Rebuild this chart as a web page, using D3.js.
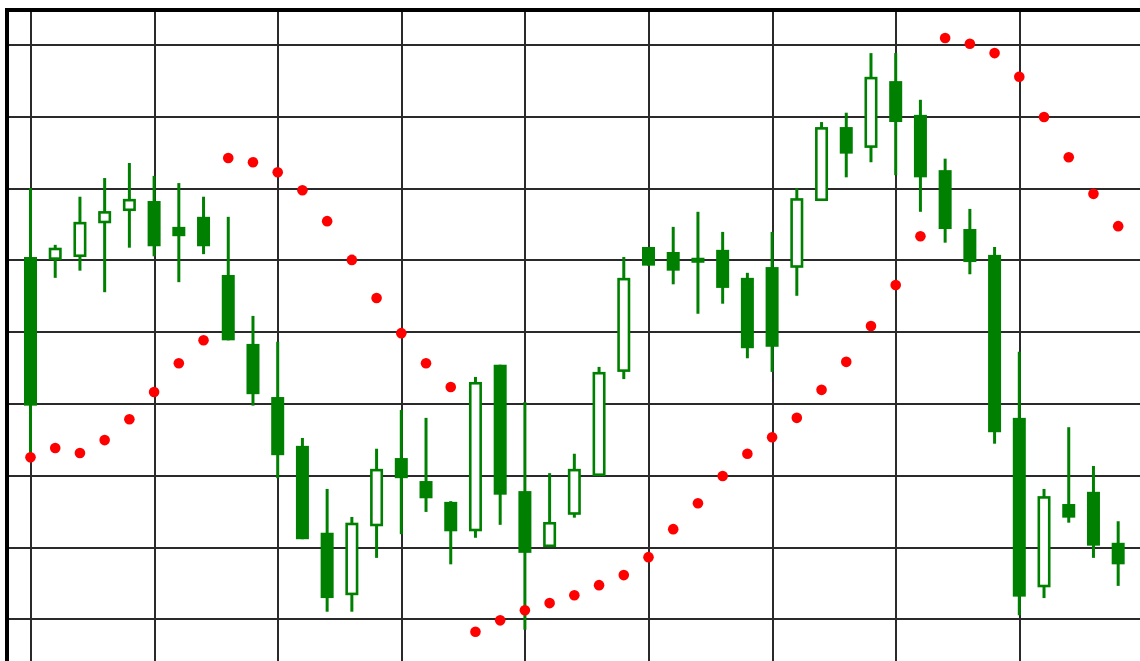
<!DOCTYPE html>
<html>
<head>
<meta charset="utf-8">
<script src="https://cdn.jsdelivr.net/npm/d3@7"></script>
<style>
  html, body { margin: 0; padding: 0; background: #fff; }
  svg { display: block; }
</style>
</head>
<body>
<svg id="chart" width="1140" height="661"></svg>
<script>
// ---- data (price units; grid every 10) ----
const opens  = [60.4,60.0,60.4,65.1,66.8,68.2,64.6,66.0,57.9,48.3,40.9,34.1,22.0,13.3,22.9,32.4,29.2,26.3,22.2,45.4,27.8,20.0,24.5,29.9,44.4,61.8,61.1,60.3,61.4,57.5,59.0,58.9,68.2,78.5,75.6,84.9,80.2,72.5,64.3,60.7,38.0,14.4,26.0,27.7,20.6];
const highs  = [70.0,62.1,68.8,71.4,73.5,71.7,70.7,68.8,66.0,52.2,48.6,35.2,28.1,24.2,33.7,39.1,38.0,26.4,43.7,45.4,40.2,30.3,33.0,45.1,60.4,61.8,64.6,66.7,63.9,58.2,63.9,70.0,79.2,80.5,88.8,88.8,82.3,74.1,67.1,61.8,47.2,28.1,36.7,31.3,23.6];
const lows   = [33.1,57.5,58.5,55.5,61.7,60.5,56.9,60.8,48.8,39.7,29.6,21.1,11.0,11.0,18.5,21.8,24.9,17.6,21.3,23.1,8.5,20.0,24.1,29.9,43.4,59.2,56.6,52.5,53.9,46.3,44.4,55.0,68.2,71.5,73.6,71.8,66.7,62.4,58.0,34.4,10.5,12.9,23.4,18.5,14.6];
const closes = [39.7,61.7,65.3,66.8,68.5,61.9,63.3,61.9,48.8,41.3,32.8,21.1,12.9,23.4,30.9,29.6,26.8,22.2,43.0,27.3,19.2,23.5,30.9,44.4,57.5,59.2,58.5,59.6,56.1,47.7,47.9,68.6,78.5,74.8,85.5,79.2,71.5,64.3,59.7,36.0,13.1,27.1,24.1,20.2,17.6];
const sar    = [32.5,33.8,33.1,34.9,37.8,41.6,45.6,48.8,74.2,73.6,72.2,69.7,65.4,60.0,54.7,49.8,45.6,42.3,8.2,9.8,11.2,12.2,13.3,14.7,16.1,18.6,22.5,26.1,29.9,33.0,35.3,38.0,41.9,45.8,50.8,56.5,63.3,90.9,90.1,88.8,85.5,79.9,74.3,69.2,64.7];
const yTicks = [10,20,30,40,50,60,70,80,90];
const xTicks = [0,5,10,15,20,25,30,35,40];

// ---- layout ----
const W = 1140, H = 661;
const padLeft = 7, padTop = 10;
const green = "#008000";
const bodyW = 13, wickW = 3, hollowStroke = 2.6;

const svg = d3.select("#chart");
svg.append("rect").attr("width", W).attr("height", H).attr("fill", "#fff");

const idx = d3.range(opens.length);
const x = d3.scaleLinear().domain([0, 44]).range([30.5, 30.5 + 44 * 24.72]);
const y = d3.scaleLinear().domain([10, 90]).range([618.9, 44.5]);

// grid via axes
const gy = svg.append("g").attr("transform", `translate(${padLeft},0)`)
  .call(d3.axisLeft(y).tickValues(yTicks).tickSize(-(W - padLeft)).tickFormat(""));
const gx = svg.append("g").attr("transform", `translate(0,${padTop})`)
  .call(d3.axisTop(x).tickValues(xTicks).tickSize(-(H - padTop)).tickFormat(""));
[gy, gx].forEach(g => {
  g.select(".domain").remove();
  g.selectAll(".tick line").attr("stroke", "#2a2a2a").attr("stroke-width", 2).attr("shape-rendering", "crispEdges");
});

// candles
const candles = svg.append("g").selectAll("g").data(idx).join("g");
candles.append("line")
  .attr("x1", i => x(i)).attr("x2", i => x(i))
  .attr("y1", i => y(highs[i])).attr("y2", i => y(lows[i]))
  .attr("stroke", green).attr("stroke-width", wickW);
candles.append("rect")
  .each(function(i) {
    const up = closes[i] > opens[i];
    const t = y(Math.max(opens[i], closes[i]));
    const b = y(Math.min(opens[i], closes[i]));
    const s = d3.select(this);
    if (up) {
      s.attr("x", x(i) - bodyW / 2 + hollowStroke / 2)
       .attr("width", bodyW - hollowStroke)
       .attr("y", t + hollowStroke / 2)
       .attr("height", Math.max(0, b - t - hollowStroke))
       .attr("fill", "#fff").attr("stroke", green).attr("stroke-width", hollowStroke);
    } else {
      s.attr("x", x(i) - bodyW / 2).attr("width", bodyW)
       .attr("y", t).attr("height", Math.max(2, b - t))
       .attr("fill", green);
    }
  });

// parabolic SAR dots
svg.append("g").selectAll("circle").data(idx).join("circle")
  .attr("cx", i => x(i)).attr("cy", i => y(sar[i]))
  .attr("r", 5.3).attr("fill", "#ff0000");

// frame (top and left thick borders)
svg.append("line").attr("x1", padLeft - 2).attr("x2", W).attr("y1", padTop).attr("y2", padTop)
  .attr("stroke", "#000").attr("stroke-width", 4);
svg.append("line").attr("x1", padLeft).attr("x2", padLeft).attr("y1", padTop - 2).attr("y2", H)
  .attr("stroke", "#000").attr("stroke-width", 4);
</script>
</body>
</html>
